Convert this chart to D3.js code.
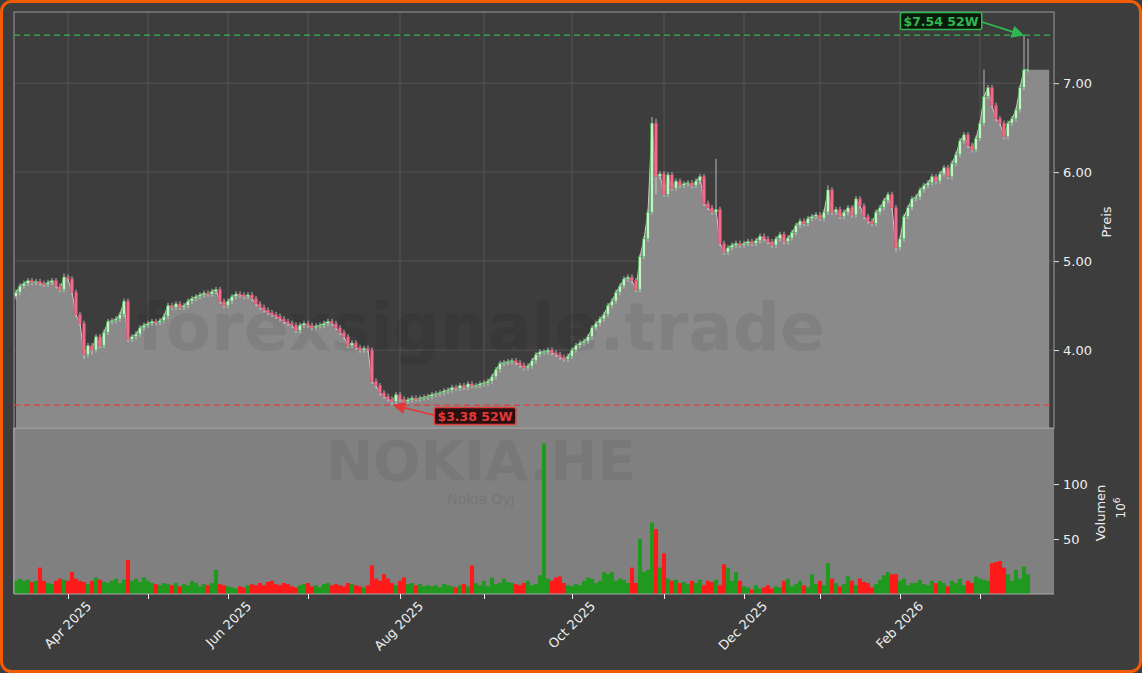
<!DOCTYPE html>
<html><head><meta charset="utf-8">
<script src="https://cdn.jsdelivr.net/npm/d3@7"></script>
<style>body{margin:0;background:#3d3d3d;}svg{display:block;font-family:"DejaVu Sans",sans-serif;}</style>
</head><body><svg id="c" width="1142" height="673"></svg>
<script>
const startDate = "2025-03-13";
const holidays = ["2025-04-18","2025-04-21","2025-05-01","2025-05-29","2025-06-20","2025-12-24","2025-12-25","2025-12-26","2025-12-31","2026-01-01","2026-01-06"];
const closes = [
4.65,4.72,4.75,4.78,4.76,4.77,4.75,4.74,4.76,4.78,
4.72,4.68,4.82,4.80,4.65,4.40,4.30,3.95,4.05,4.00,
4.15,4.05,4.20,4.32,4.33,4.35,4.40,4.55,4.12,4.15,
4.18,4.25,4.28,4.30,4.32,4.31,4.33,4.38,4.50,4.48,
4.52,4.48,4.50,4.55,4.58,4.60,4.62,4.64,4.63,4.66,
4.68,4.55,4.50,4.55,4.60,4.63,4.62,4.60,4.62,4.58,
4.52,4.48,4.45,4.42,4.40,4.38,4.35,4.32,4.30,4.28,
4.22,4.28,4.30,4.28,4.25,4.27,4.28,4.30,4.32,4.30,
4.25,4.20,4.15,4.05,4.08,4.03,4.00,4.02,4.00,3.65,
3.60,3.52,3.48,3.45,3.42,3.50,3.45,3.42,3.44,3.46,
3.45,3.46,3.47,3.48,3.50,3.51,3.52,3.54,3.55,3.58,
3.57,3.60,3.58,3.62,3.60,3.60,3.62,3.63,3.65,3.70,
3.78,3.85,3.86,3.87,3.88,3.86,3.83,3.80,3.82,3.88,
3.95,3.98,3.98,4.00,3.97,3.95,3.92,3.90,3.93,4.00,
4.05,4.08,4.10,4.15,4.25,4.30,4.35,4.40,4.50,4.55,
4.65,4.72,4.80,4.82,4.78,4.68,5.05,5.25,5.55,6.55,
5.95,5.98,5.75,5.97,5.82,5.90,5.85,5.87,5.88,5.85,
5.90,5.95,5.65,5.60,5.55,5.58,5.20,5.10,5.15,5.18,
5.20,5.18,5.20,5.22,5.20,5.23,5.28,5.25,5.22,5.18,
5.25,5.30,5.22,5.26,5.32,5.40,5.45,5.42,5.48,5.50,
5.52,5.48,5.55,5.80,5.55,5.58,5.50,5.55,5.60,5.52,
5.70,5.62,5.50,5.45,5.42,5.55,5.60,5.68,5.75,5.60,
5.15,5.25,5.50,5.60,5.70,5.72,5.80,5.85,5.88,5.95,
5.90,5.98,6.05,5.95,6.10,6.20,6.35,6.42,6.30,6.25,
6.38,6.55,6.85,6.95,6.75,6.60,6.55,6.40,6.55,6.60,
6.70,6.95,7.15,7.15];
const firstOpen = 4.60;
const highOverrides = {12:4.86,27:4.58,159:6.62,160:6.60,175:6.15,203:5.85,242:7.15,252:7.54,253:7.50};
const lowOverrides = {17:3.90,19:3.95,94:3.38,220:5.10,160:5.75};
const volumes = [
12,14,12,13,11,12,24,12,10,9,
12,14,13,12,20,14,12,11,9,12,
15,13,11,10,12,14,10,13,31,12,
14,11,15,12,10,9,8,10,9,8,
10,7,9,8,12,10,7,9,8,10,
22,9,8,7,6,5,7,6,8,9,
8,10,8,11,12,9,8,10,9,7,
6,8,9,10,7,8,6,9,10,8,
9,8,7,10,9,8,7,6,8,26,
14,12,18,14,10,8,12,15,9,10,
8,9,7,8,7,8,6,9,8,7,
6,8,9,7,26,10,8,12,7,15,
9,10,14,11,10,9,8,10,12,8,
9,17,137,14,12,15,16,10,8,7,
9,8,12,15,14,10,12,20,18,20,
12,14,13,10,24,10,50,20,22,65,
59,24,37,14,12,13,10,11,9,12,
10,13,8,12,11,13,8,27,24,12,
20,12,7,6,4,8,5,6,8,5,
7,6,12,14,7,9,12,8,6,18,
9,12,8,28,14,10,7,9,16,12,
8,14,11,10,6,9,13,17,20,18,
18,12,14,8,10,10,13,9,8,12,
10,12,10,7,12,10,14,8,12,10,
16,14,13,12,28,29,30,24,18,12,
22,14,25,18];
const priceTicks = [4,5,6,7];
const volTicks = [50,100];
const high52 = 7.54, low52 = 3.38;
const title = "NOKIA.HE", subtitle = "Nokia Oyj", watermark = "forexsignale.trade";

const fmt = d3.timeFormat("%Y-%m-%d");
const dates = [];
let d = new Date(startDate + "T12:00:00");
while (dates.length < closes.length) {
  const wd = d.getDay();
  if (wd !== 0 && wd !== 6 && !holidays.includes(fmt(d))) dates.push(new Date(d));
  d = d3.timeDay.offset(d, 1);
}
const data = closes.map((c, i) => {
  const o = i === 0 ? firstOpen : closes[i-1];
  const hi = highOverrides[i] ?? Math.max(o, c) + 0.03;
  const lo = lowOverrides[i] ?? Math.min(o, c) - 0.03;
  return {i, date: dates[i], o, c, hi, lo, v: volumes[i]};
});

const svg = d3.select("#c");
svg.append("rect").attr("x",1.5).attr("y",1.5).attr("width",1139).attr("height",670).attr("rx",10)
  .attr("fill","#3d3d3d").attr("stroke","#f25c05").attr("stroke-width",3);

const L = 14, R = 1054, PT = 12, PB = 428, VT = 428, VB = 594;
const x = d3.scaleLinear().domain([-0.5, closes.length + 5.5]).range([L, R]);
const y = d3.scaleLinear().domain([3.124, 7.80]).range([PB, PT]);
const yv = d3.scaleLinear().domain([0, 151]).range([VB, VT]);

const monthStarts = [];
data.forEach((p, i) => { if (i > 0 && p.date.getMonth() !== data[i-1].date.getMonth()) monthStarts.push(p); });
const g = svg.append("g");
g.selectAll(".vg").data(monthStarts).join("line").attr("x1",p=>x(p.i)).attr("x2",p=>x(p.i))
  .attr("y1",PT).attr("y2",PB).attr("stroke","#5a5a5a").attr("stroke-width",0.8);
g.selectAll(".hg").data(priceTicks).join("line").attr("x1",L).attr("x2",R).attr("y1",v=>y(v)).attr("y2",v=>y(v))
  .attr("stroke","#5a5a5a").attr("stroke-width",0.8);

const areaData = data.concat([{i: closes.length + 4.3, c: closes[closes.length-1]}]);
svg.append("path").datum(areaData)
  .attr("d", d3.area().x(p=>x(p.i)).y0(PB).y1(p=>y(p.c)))
  .attr("fill","#8a8a8a");
svg.append("path").datum(data)
  .attr("d", d3.line().x(p=>x(p.i)).y(p=>y(p.c)))
  .attr("fill","none").attr("stroke","#c8c8c8").attr("stroke-width",1);

svg.append("text").attr("x",481).attr("y",350).attr("text-anchor","middle").attr("font-size",66).attr("font-weight","bold")
  .attr("fill","#000").attr("opacity",0.065).text(watermark);

const cw = 2.6;
const cg = svg.append("g");
cg.selectAll("line").data(data).join("line").attr("x1",p=>x(p.i)).attr("x2",p=>x(p.i))
  .attr("y1",p=>y(p.hi)).attr("y2",p=>y(p.lo)).attr("stroke","#d8d8d8").attr("stroke-width",0.8);
cg.selectAll("rect").data(data).join("rect")
  .attr("x",p=>x(p.i)-cw/2).attr("width",cw)
  .attr("y",p=>y(Math.max(p.o,p.c))).attr("height",p=>Math.max(1,Math.abs(y(p.o)-y(p.c))))
  .attr("fill",p=>p.c>=p.o?"#c9efc9":"#f06a8a").attr("stroke",p=>p.c>=p.o?"#3cb34a":"#d84a6a").attr("stroke-width",0.6);

svg.append("rect").attr("x",L).attr("y",PT).attr("width",R-L).attr("height",PB-PT).attr("fill","none").attr("stroke","#9a9a9a").attr("stroke-width",1);

svg.append("line").attr("x1",L).attr("x2",R).attr("y1",y(high52)).attr("y2",y(high52))
  .attr("stroke","#2fb84f").attr("stroke-width",1.3).attr("stroke-dasharray","6,4");
svg.append("line").attr("x1",L).attr("x2",R).attr("y1",y(low52)).attr("y2",y(low52))
  .attr("stroke","#e03a3a").attr("stroke-width",1.3).attr("stroke-dasharray","6,4");
const defs = svg.append("defs");
[["ag","#2fb84f"],["ar","#e03a3a"]].forEach(([id,col])=>{
  defs.append("marker").attr("id",id).attr("viewBox","0 0 10 10").attr("refX",9).attr("refY",5)
   .attr("markerWidth",7).attr("markerHeight",7).attr("orient","auto")
   .append("path").attr("d","M0,0L10,5L0,10z").attr("fill",col);
});
const hiIdx = data.findIndex(p=>p.hi===high52), loIdx = data.findIndex(p=>p.lo===low52);
function label(tx, ty, txt, col, bg, ax, ay, mk){
  svg.append("line").attr("x1",tx+(ax>tx?38:-38)).attr("y1",ty).attr("x2",ax).attr("y2",ay)
    .attr("stroke",col).attr("stroke-width",1.8).attr("marker-end","url(#"+mk+")");
  const t = svg.append("text").attr("x",tx).attr("y",ty+4.5).attr("text-anchor","middle").attr("font-size",12.5)
    .attr("font-weight","bold").attr("fill",col).text(txt);
  const bb = t.node().getBBox();
  svg.insert("rect", () => t.node()).attr("x",bb.x-3).attr("y",bb.y-1).attr("width",bb.width+6).attr("height",bb.height+2)
    .attr("rx",2).attr("fill",bg).attr("stroke",col).attr("stroke-width",1.5);
}
label(941, 21, "$7.54 52W", "#2fb84f", "#0a1a0a", x(hiIdx)-1, y(high52), "ag");
label(475, 416, "$3.38 52W", "#e03a3a", "#2a0f0f", x(loIdx)+2, y(low52), "ar");

svg.append("rect").attr("x",L-1).attr("y",VT).attr("width",R-L+1).attr("height",VB-VT).attr("fill","#808080");
svg.append("line").attr("x1",L).attr("x2",R).attr("y1",VT+0.5).attr("y2",VT+0.5).attr("stroke","#9a9a9a");
svg.append("text").attr("x",481).attr("y",480).attr("text-anchor","middle").attr("font-size",56).attr("font-weight","bold")
  .attr("fill","#000").attr("opacity",0.06).text(title);
svg.append("text").attr("x",481).attr("y",504).attr("text-anchor","middle").attr("font-size",14)
  .attr("fill","#000").attr("opacity",0.08).text(subtitle);
const bw = 4.1;
svg.append("g").selectAll("rect").data(data).join("rect")
  .attr("x",p=>x(p.i)-bw/2).attr("width",bw).attr("y",p=>yv(p.v)).attr("height",p=>VB-yv(p.v))
  .attr("fill",p=>p.c>=p.o?"#1f9a1f":"#ff1a1a");
svg.append("line").attr("x1",L).attr("x2",R).attr("y1",VB).attr("y2",VB).attr("stroke","#aaa");
svg.append("line").attr("x1",L).attr("x2",L).attr("y1",VT).attr("y2",VB).attr("stroke","#aaa");

const pa = svg.append("g").attr("transform",`translate(${R},0)`)
  .call(d3.axisRight(y).tickValues(priceTicks).tickFormat(d3.format(".2f")).tickSize(5).tickPadding(4));
const va = svg.append("g").attr("transform",`translate(${R},0)`)
  .call(d3.axisRight(yv).tickValues(volTicks).tickSize(5).tickPadding(4));
[pa,va].forEach(a=>{a.select(".domain").remove(); a.selectAll("line").attr("stroke","#ddd");
  a.selectAll("text").attr("fill","#eee").attr("font-size",13).attr("font-family","DejaVu Sans");});
const xa = svg.append("g").attr("transform",`translate(0,${VB})`)
  .call(d3.axisBottom(x).tickValues(monthStarts.map(p=>p.i)).tickSize(5).tickFormat(() => ""));
xa.select(".domain").remove(); xa.selectAll("line").attr("stroke","#eee");
const labeled = monthStarts.filter(p=>[3,5,7,9,11,1].includes(p.date.getMonth()));
svg.append("g").selectAll("text").data(labeled).join("text")
  .attr("transform",p=>`translate(${x(p.i)+24},${VB+13}) rotate(-45)`).attr("text-anchor","end")
  .attr("font-size",13).attr("fill","#eee").text(p=>d3.timeFormat("%b %Y")(p.date));
svg.append("text").attr("transform","translate(1111,222) rotate(-90)").attr("text-anchor","middle")
  .attr("font-size",13).attr("fill","#eee").text("Preis");
svg.append("text").attr("transform","translate(1105,513) rotate(-90)").attr("text-anchor","middle")
  .attr("font-size",13).attr("fill","#eee").text("Volumen");
const t6 = svg.append("text").attr("transform","translate(1125,508) rotate(-90)").attr("text-anchor","middle")
  .attr("font-size",12).attr("fill","#eee");
t6.append("tspan").text("10");
t6.append("tspan").attr("dy",-5).attr("font-size",9).text("6");
</script></body></html>
